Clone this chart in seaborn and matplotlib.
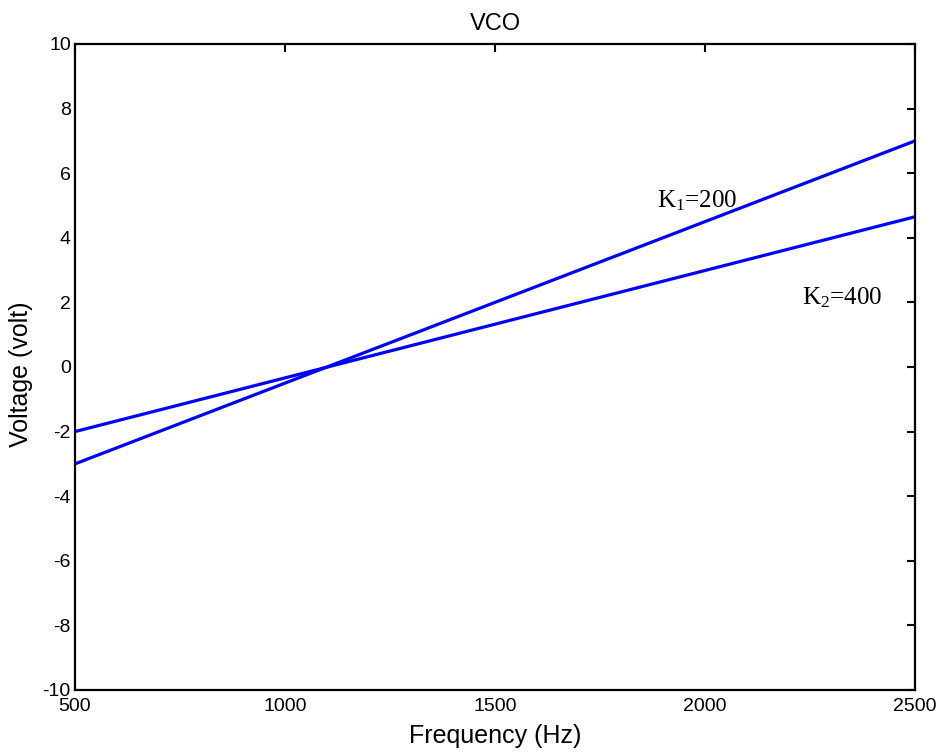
import matplotlib
matplotlib.use("Agg")
import matplotlib.pyplot as plt
import seaborn as sns
import pandas as pd

# Frequency endpoints (Hz) and the two VCO characteristics (volt)
frequency = [500, 2500]
voltage_k1 = [-3.0, 7.0]
voltage_k2 = [-2.0, 4.65]
curve_labels = ["K$_{\\mathrm{1}}$=200", "K$_{\\mathrm{2}}$=400"]
label_positions = [(1886, 5.15), (2231, 2.14)]

sns.set_style("white")
plt.rcParams["font.family"] = ["Liberation Sans", "DejaVu Sans"]
plt.rcParams["axes.unicode_minus"] = False
plt.rcParams["text.color"] = "black"
plt.rcParams["axes.labelcolor"] = "black"
plt.rcParams["mathtext.fontset"] = "custom"
plt.rcParams["mathtext.rm"] = "Liberation Serif"
plt.rcParams["mathtext.it"] = "Liberation Serif:italic"

df = pd.DataFrame({
    "freq": frequency * 2,
    "volt": voltage_k1 + voltage_k2,
    "curve": ["k1"] * len(frequency) + ["k2"] * len(frequency),
})

fig = plt.figure(figsize=(9.41, 7.53), dpi=100)
ax = fig.add_axes([0.0797, 0.0837, 0.8927, 0.8579])

sns.lineplot(data=df, x="freq", y="volt", hue="curve",
             palette={"k1": "#0000ff", "k2": "#0000ff"},
             linewidth=2.3, legend=False, ax=ax)

for text, (x, y) in zip(curve_labels, label_positions):
    ax.text(x, y, text, fontsize=18, family="Liberation Serif",
            ha="left", va="center", color="black")

ax.set_xlim(500, 2500)
ax.set_ylim(-10, 10)
ax.set_xticks(range(500, 2501, 500))
ax.set_yticks(range(-10, 11, 2))
ax.tick_params(direction="in", length=6, width=1.5, top=True, right=True,
               labelsize=14, colors="black")
ax.tick_params(axis="x", pad=6)
ax.tick_params(axis="y", pad=3)
for s in ax.spines.values():
    s.set_visible(True)
    s.set_linewidth(1.6)
    s.set_color("black")

ax.set_title("VCO", fontsize=17, pad=10, color="black")
ax.set_xlabel("Frequency (Hz)", fontsize=18, labelpad=6)
ax.set_ylabel("Voltage (volt)", fontsize=18)
ax.yaxis.set_label_coords(-0.050, 0.489)

fig.savefig("out.png", dpi=100)
